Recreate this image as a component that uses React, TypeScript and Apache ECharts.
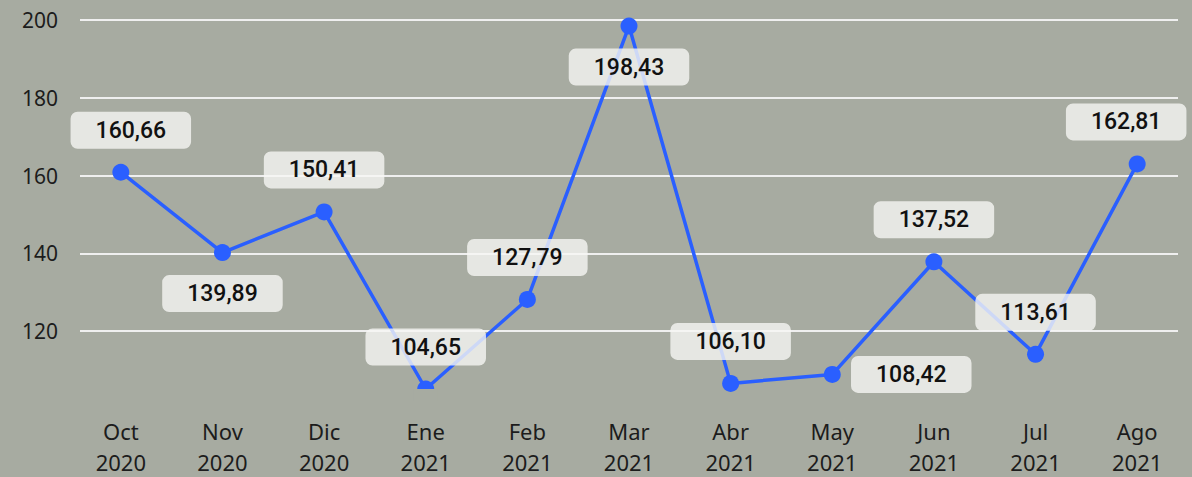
import React, { useEffect, useRef } from "react";
import * as echarts from "echarts";

const months = ["Oct", "Nov", "Dic", "Ene", "Feb", "Mar", "Abr", "May", "Jun", "Jul", "Ago"];
const years = ["2020", "2020", "2020", "2021", "2021", "2021", "2021", "2021", "2021", "2021", "2021"];
const values = [160.66, 139.89, 150.41, 104.65, 127.79, 198.43, 106.1, 108.42, 137.52, 113.61, 162.81];
const yTicks = [120, 140, 160, 180, 200];
const labelPlacement = ["above", "below", "above", "above", "above", "below", "above", "right", "above", "above", "above"];
const labelEdgeShift = [10, 0, 0, 0, 0, 0, 0, 0, 0, 0, -11];

const BG = "#a7aba1";
const LINE = "#2a5fff";

export default function App() {
  const ref = useRef<HTMLDivElement>(null);
  useEffect(() => {
    if (!ref.current) return;
    const chart = echarts.init(ref.current, undefined, { renderer: "svg" });
    const yMin = Math.min(...values);
    const minIdx = values.indexOf(yMin);
    const yMax = yTicks[yTicks.length - 1];
    const step = yTicks[1] - yTicks[0];

    const data = values.map((v, i) => {
      const p = labelPlacement[i];
      let off: [number, number] = [0, -42];
      if (p === "below") off = [0, 41];
      if (p === "right") off = [79, 0];
      off = [off[0] + labelEdgeShift[i], off[1]];
      return { value: v, label: { offset: off } };
    });

    chart.setOption({
      animation: false,
      backgroundColor: BG,
      grid: [
        { left: 80, right: 14, top: 20, bottom: 68.2 },
        { left: 70, right: 4, top: 20, bottom: 86.3 },
      ],
      xAxis: [
        { type: "value", gridIndex: 0, show: false, min: 0, max: 1 },
        {
          type: "category",
          gridIndex: 1,
          data: months,
          boundaryGap: true,
          axisLine: { show: false },
          axisTick: { show: false },
          axisLabel: {
            interval: 0,
            margin: 26,
            fontFamily: "Noto Sans",
            fontSize: 22,
            lineHeight: 31,
            color: "#1c1c1c",
            formatter: (_v: string, idx: number) => `${months[idx]}\n${years[idx]}`,
          },
        },
      ],
      yAxis: [
        {
          type: "value",
          gridIndex: 0,
          min: yMax - step * 5,
          max: yMax,
          interval: step,
          axisLine: { show: false },
          axisTick: { show: false },
          axisLabel: {
            showMinLabel: false,
            margin: 22,
            fontFamily: "Noto Sans",
            fontSize: 21,
            color: "#1c1c1c",
          },
          splitLine: { show: true, showMinLine: false, lineStyle: { color: "#efefef", width: 2 } },
        },
        { type: "value", gridIndex: 1, min: yMin, max: yMax, show: false, splitLine: { show: false } },
      ],
      series: [
        {
          type: "line",
          xAxisIndex: 1,
          yAxisIndex: 1,
          data,
          clip: true,
          symbol: "circle",
          symbolSize: 17,
          itemStyle: { color: LINE },
          lineStyle: { color: LINE, width: 3.5 },
          z: 3,
          label: {
            show: true,
            position: "inside",
            formatter: (p: any) => Number(p.value).toFixed(2).replace(".", ","),
            fontFamily: "Roboto",
            fontWeight: 500,
            fontSize: 23,
            lineHeight: 21,
            color: "#111111",
            backgroundColor: "rgba(246,246,244,0.8)",
            borderRadius: 7,
            padding: [8, 25],
          },
        },
      ],
    });

    const yb = chart.convertToPixel({ yAxisIndex: 1 }, yMin) as number;
    const xb = chart.convertToPixel({ xAxisIndex: 1 }, minIdx) as number;
    chart.setOption({
      graphic: [
        {
          type: "rect",
          z: 100,
          silent: true,
          shape: { x: xb - 12, y: yb, width: 24, height: 12 },
          style: { fill: BG },
        },
      ],
    });

    return () => chart.dispose();
  }, []);
  return <div ref={ref} style={{ position: "fixed", left: 0, top: 0, width: 1192, height: 477 }} />;
}
